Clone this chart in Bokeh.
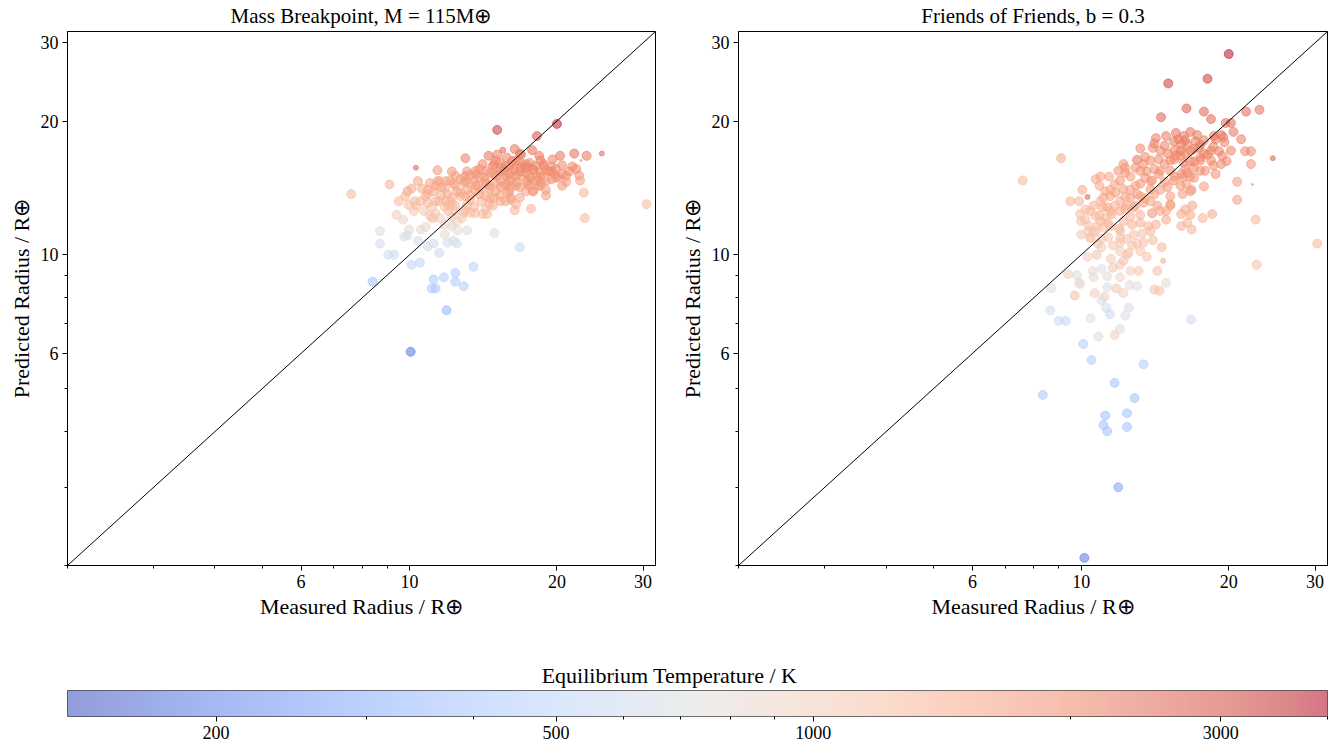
import numpy as np
from bokeh.plotting import figure
from bokeh.layouts import column, row
from bokeh.models import (ColumnDataSource, LogColorMapper, ColorBar, FixedTicker, Label,
                          PrintfTickFormatter, Range1d, Slope)
from bokeh.transform import transform
from bokeh.embed import file_html
from bokeh.resources import INLINE

# ---------------- data ----------------
# Left panel: Mass Breakpoint
left_measured = [15.1, 20.0, 18.2, 10.3, 7.6, 9.1, 13.0, 14.5, 15.5, 16.4, 16.8, 17.8, 18.4, 20.3, 21.7, 23.0, 24.7, 22.4,
                 30.5, 22.7, 22.8, 17.7, 16.4, 16.8, 14.9, 8.7, 8.7, 9.05, 9.3, 8.4, 10.1, 10.5, 11.5, 11.2, 11.75, 12.4,
                 13.5, 11.1, 11.3, 12.4, 12.9, 11.9, 10.05,
                 9.4, 9.7, 9.97, 9.75, 9.9, 10.4, 10.9, 11.2, 11.95, 12.3, 12.5, 12.55, 13.1, 11.8, 10.55, 10.8, 11.2,
                 11.8, 12.2, 12.5,
                 9.5, 9.95, 9.9, 10.1, 10.25, 10.6, 11.0, 11.4, 12.2, 13.1, 13.65, 14.1, 14.8, 15.35, 15.95, 16.9, 17.4,
                 17.9, 18.8, 19.3, 19.9, 20.9, 21.2, 22.2, 22.3, 19.0, 18.3, 16.8, 16.1, 15.35, 14.55, 14.1, 14.4, 13.55,
                 12.9, 12.4, 11.8, 11.1, 10.7, 11.5, 12.2, 12.7, 13.3, 14.0, 14.6, 15.35, 16.1, 16.9, 17.7, 18.55, 19.75,
                 11.8, 12.3, 12.9, 13.55, 14.2, 14.85, 15.6, 16.35, 11.2, 10.9, 11.95, 12.5, 13.1, 13.8, 14.4, 15.1, 15.8,
                 16.6, 17.4, 11.55, 12.2, 12.8, 13.3, 11.1, 12.2, 13.1, 14.0, 14.9, 15.8, 17.9, 18.55, 16.9, 19.6, 20.5,
                 17.2, 17.9, 18.8, 19.45, 20.1, 18.25, 17.4, 16.1, 15.35, 15.6, 16.35, 14.85, 15.8, 16.2, 15.1, 17.85,
                 16.1, 11.5, 11.4,
                 10.78, 11.3, 11.3, 11.85, 11.85, 12.4, 12.4, 12.4, 13.0, 13.0, 13.0, 13.65, 13.65, 13.65, 14.3, 14.3,
                 14.3, 15.0, 15.0, 15.0, 15.7, 15.7, 15.7, 16.5, 16.5, 16.5, 17.3, 17.3, 17.3, 18.1, 18.1, 19.0, 19.0,
                 19.9, 20.9, 21.9, 12.0, 13.0, 14.8, 15.7, 10.53, 11.0, 10.2, 9.8, 10.4,
                 10.9, 10.9, 11.6, 11.6, 12.1, 12.1, 12.7, 12.7, 13.3, 13.3, 13.3, 13.9, 13.9, 13.9, 14.6, 14.6, 14.6,
                 15.3, 15.3, 15.3, 16.0, 16.0, 16.0, 16.8, 16.8, 16.8, 17.6, 17.6, 17.6, 18.5, 18.5, 18.5, 19.5, 19.5,
                 20.5, 20.5, 21.5, 12.0, 14.3, 16.5, 19.0, 10.3, 11.3, 13.6]
left_predicted = [19.1, 19.7, 18.5, 15.7, 13.7, 14.4, 16.5, 16.7, 17.2, 17.3, 16.9, 17.2, 16.7, 16.7, 16.9, 16.7, 16.9, 16.3,
                  13.0, 13.8, 12.1, 12.7, 12.6, 10.4, 11.2, 11.3, 10.6, 10.0, 10.0, 8.7, 9.5, 9.6, 10.1, 8.8, 8.9, 9.1,
                  9.4, 8.4, 8.4, 8.7, 8.5, 7.5, 6.05,
                  12.3, 12.0, 11.4, 11.0, 11.05, 10.75, 10.45, 10.6, 10.65, 10.75, 10.6, 11.35, 11.35, 11.1, 11.4, 11.55,
                  12.1, 11.7, 11.6, 11.9,
                  13.2, 12.95, 13.9, 14.1, 13.2, 14.1, 14.5, 14.65, 15.4, 15.4, 15.2, 16.0, 15.85, 15.7, 15.85, 15.7, 15.7,
                  15.5, 16.0, 15.4, 14.9, 14.6, 15.4, 15.1, 14.7, 14.0, 14.3, 13.45, 13.45, 13.2, 13.0, 12.35, 12.35, 12.8,
                  12.45, 12.55, 12.8, 12.8, 12.55, 13.2, 13.45, 13.55, 13.65, 14.05, 14.3, 14.65, 14.9, 15.05, 14.9, 15.05,
                  15.2, 14.15, 14.45, 14.55, 14.65, 14.95, 15.2, 15.35, 15.5, 13.9, 13.7, 13.7, 13.9, 14.05, 14.3, 14.45,
                  14.55, 14.45, 14.55, 14.45, 12.1, 12.2, 12.1, 12.45, 12.1, 13.0, 13.0, 13.2, 13.45, 13.8, 13.9, 14.55,
                  16.8, 16.4, 15.9, 15.7, 15.6, 15.85, 15.4, 14.95, 14.95, 14.65, 14.2, 14.2, 15.5, 15.6, 16.0, 16.55,
                  16.25, 16.8, 13.9, 13.3, 14.65, 15.5,
                  13.55, 13.2, 14.3, 13.2, 14.65, 12.9, 14.3, 15.05, 13.55, 14.65, 15.05, 13.9, 14.3, 15.45, 13.55, 14.65,
                  15.45, 13.9, 15.05, 16.3, 14.3, 15.05, 15.85, 14.3, 15.05, 16.3, 13.9, 15.3, 16.0, 14.65, 15.85, 14.65,
                  15.45, 15.6, 15.05, 15.6, 12.55, 12.6, 12.9, 13.2, 13.2, 12.25, 12.55, 13.55, 14.65,
                  13.1, 14.0, 13.6, 14.2, 13.2, 14.7, 13.8, 14.8, 13.3, 14.4, 15.1, 13.7, 14.9, 15.6, 13.4, 14.1, 15.3,
                  13.6, 15.4, 16.1, 13.9, 14.7, 15.2, 14.2, 15.4, 16.2, 14.3, 15.0, 16.1, 14.3, 15.3, 16.3, 14.8, 15.8,
                  15.2, 14.3, 15.8, 12.9, 12.7, 13.0, 13.6, 12.9, 12.4, 12.4]
left_temp = [3300, 3700, 2900, 2600, 1300, 1400, 2200, 2300, 2500, 2300, 2200, 2400, 2300, 2300, 2400, 2300, 2500, 2000,
             1300, 1400, 1300, 1400, 1400, 560, 720, 760, 620, 600, 600, 380, 520, 520, 560, 420, 440, 430,
             480, 420, 420, 420, 450, 330, 185,
             1000, 900, 800, 720, 700, 650, 620, 650, 650, 660, 650, 760, 800, 750, 850, 850, 950, 900, 850, 950,
             1300, 1250, 1500, 1500, 1300, 1500, 1600, 1600, 1800, 1800, 1900, 2000, 2000, 2000, 2000, 2000, 2000,
             1900, 2000, 1900, 1800, 1700, 1900, 1800, 1700, 1700, 1700, 1600, 1600, 1500, 1400, 1300, 1300, 1300,
             1200, 1200, 1200, 1150, 1100, 1300, 1400, 1400, 1500, 1500, 1600, 1700, 1700, 1800, 1800, 1800, 1900,
             1500, 1600, 1600, 1700, 1700, 1800, 1800, 1900, 1500, 1400, 1500, 1600, 1600, 1600, 1700, 1700, 1700,
             1700, 1700, 1000, 1050, 1100, 1200, 1000, 1250, 1300, 1400, 1500, 1600, 1700, 1800, 2200, 2100, 2000,
             2000, 2000, 2000, 1900, 1800, 1800, 1800, 1700, 1700, 1900, 1900, 2000, 2100, 2100, 2200, 1700,
             1600, 1600, 1800,
             1400, 1350, 1550, 1350, 1600, 1250, 1550, 1700, 1450, 1650, 1750, 1550, 1650, 1850, 1500, 1700,
             1850, 1600, 1800, 2000, 1700, 1800, 1950, 1700, 1850, 2050, 1650, 1900, 2000, 1800, 2000, 1800,
             1900, 1950, 1850, 1950, 1200, 1250, 1400, 1500, 1300, 1100, 1150, 1400, 1600,
             1300, 1500, 1450, 1550, 1350, 1650, 1500, 1650, 1450, 1600, 1750, 1550, 1750, 1850, 1500, 1650, 1850,
             1550, 1850, 2000, 1650, 1750, 1850, 1700, 1900, 2050, 1750, 1850, 2000, 1750, 1900, 2050, 1800, 1950,
             1900, 1750, 1950, 1250, 1300, 1450, 1650, 1200, 1100, 1250]
left_size = [9, 9, 9, 5, 9, 9, 9, 9, 6, 9, 9, 9, 9, 9, 9, 9, 5, 2] + [9] * (len(left_measured) - 18)

# Right panel: Friends of Friends
right_measured = [20.0, 18.1, 15.05, 16.4, 17.8, 18.4, 14.55, 21.7, 23.1, 19.7, 20.2, 20.45, 21.2, 21.6, 22.2, 22.2, 24.6,
                  20.8, 20.8, 22.35, 22.7, 30.3, 22.8, 9.1, 7.6, 10.3, 14.7,
                  9.5, 9.9, 10.05, 10.7, 10.95, 11.4, 11.9, 12.2, 12.3, 13.0, 13.2, 14.0, 14.2, 14.9, 15.6, 13.4, 13.6,
                  14.4, 15.0, 15.6, 16.0, 15.45, 15.8, 16.2, 16.0, 15.45, 15.0, 14.4, 13.95, 13.85, 13.2, 13.0, 12.6,
                  12.2, 12.0, 11.75, 11.45, 11.1, 11.3, 11.05, 11.55, 12.0, 12.4, 12.8, 13.4, 13.95, 14.3, 14.9, 15.2,
                  14.9, 16.0, 16.0, 14.2, 13.7, 13.2, 12.7, 12.2, 11.95, 11.35, 11.1, 10.75, 10.6, 10.35, 10.45, 10.9,
                  10.7, 10.2, 10.0, 11.0, 11.35, 12.0, 12.4, 12.8, 13.3, 13.4, 12.0, 12.5, 10.75,
                  18.5, 17.7, 16.8, 16.45, 16.3, 16.7, 17.8, 16.8, 16.4, 18.8, 17.9, 19.8, 19.4, 19.1, 19.6, 18.8, 18.65,
                  17.1, 17.25, 16.7, 16.2, 16.45, 17.4, 18.1, 17.5, 16.7, 16.95, 16.45, 16.1, 16.1, 16.85,
                  9.95, 10.35, 10.7, 9.4, 9.8, 9.9, 10.55, 10.6, 11.0, 11.3, 12.0, 11.6, 12.0, 12.2, 12.4, 12.6, 13.1,
                  13.0, 14.3, 14.9,
                  8.7, 8.65, 9.0, 9.3, 9.7, 9.95, 10.65, 11.15, 11.3, 11.0, 11.25, 11.45, 10.45, 10.85, 11.7, 12.0, 12.3,
                  12.5, 11.8, 12.2, 12.55, 13.0, 14.1, 14.45, 16.75, 10.1, 10.5, 13.4, 11.7, 8.35, 12.85, 11.2, 12.4,
                  11.1, 11.3, 12.4, 11.9, 10.15,
                  10.43, 10.94, 10.94, 11.47, 11.47, 12.02, 12.02, 12.6, 12.6, 12.6, 13.2, 13.2, 13.2, 13.85, 13.85,
                  13.85, 14.5, 14.5, 14.5, 15.2, 15.2, 15.2, 15.95, 15.95, 15.95, 16.7, 16.7, 17.5, 17.5, 17.5, 18.4,
                  18.4, 19.3, 19.3, 20.2, 11.47, 12.02, 13.85, 14.5, 15.2, 16.7, 10.43, 11.0, 13.2, 14.0,
                  10.2, 10.6, 10.9, 11.2, 11.2, 11.7, 11.7, 12.3, 12.3, 12.3, 12.9, 12.9, 12.9, 13.5, 13.5, 13.5, 14.1,
                  14.1, 14.1, 14.8, 14.8, 14.8, 15.5, 15.5, 15.5, 16.3, 16.3, 16.3, 17.0, 17.0, 17.0, 17.8, 17.8, 18.6,
                  18.6, 19.5, 10.0, 10.8, 11.6, 12.7, 10.3, 11.5, 13.6, 14.6]
right_predicted = [28.3, 24.9, 24.3, 21.35, 21.0, 20.2, 20.4, 21.0, 21.2, 19.8, 19.8, 18.9, 18.2, 17.1, 17.1, 16.0, 16.5,
                   14.6, 13.3, 14.4, 12.0, 10.6, 9.5, 16.5, 14.7, 13.5, 9.7,
                   13.2, 13.2, 14.0, 14.8, 15.0, 15.0, 15.45, 16.0, 15.7, 16.35, 17.35, 17.4, 18.3, 18.5, 18.8, 16.0, 15.4,
                   16.4, 16.9, 16.7, 17.7, 18.0, 18.2, 16.1, 15.2, 14.7, 14.2, 15.2, 14.7, 14.05, 14.45, 13.7, 13.45,
                   14.05, 14.7, 13.8, 13.55, 13.45, 12.8, 12.8, 12.35, 12.55, 12.9, 12.8, 13.1, 12.4, 12.9, 12.55, 13.0,
                   12.0, 12.35, 11.6, 11.7, 11.6, 11.8, 11.7, 11.9, 11.45, 11.8, 11.5, 11.6, 11.2, 11.3, 10.95, 12.25,
                   12.25, 12.65, 11.9, 10.85, 10.95, 10.65, 10.85, 11.1, 11.15, 10.65, 10.2, 10.1, 10.0,
                   12.35, 12.1, 11.4, 11.8, 12.65, 12.3, 14.25, 14.0, 14.4, 15.2, 15.45, 16.25, 16.7, 17.1, 17.9, 18.2, 18.5,
                   18.0, 18.6, 18.9, 18.5, 17.7, 17.4, 16.8, 16.55, 16.25, 15.7, 15.3, 14.95, 13.7, 12.9,
                   12.35, 11.6, 11.3, 9.05, 9.0, 8.65, 9.2, 8.9, 9.3, 8.95, 8.9, 9.35, 9.5, 9.7, 10.0, 9.2, 9.2,
                   10.6, 9.2, 8.65,
                   8.4, 7.5, 7.1, 7.1, 8.1, 8.6, 8.2, 8.05, 8.45, 7.9, 7.6, 7.35, 7.2, 6.55, 6.6, 6.8, 7.3,
                   7.6, 8.4, 8.2, 8.55, 8.5, 8.35, 8.3, 7.15, 6.3, 5.8, 5.67, 5.15, 4.84, 4.76, 4.35, 4.4,
                   4.14, 4.01, 4.1, 3.0, 2.08,
                   12.55, 11.9, 13.2, 12.55, 14.0, 13.2, 11.3, 14.0, 12.2, 15.0, 13.55, 15.45, 12.3, 14.65, 16.3,
                   13.2, 14.0, 15.45, 17.15, 15.45, 16.3, 13.55, 16.7, 14.3, 17.15, 17.15, 15.0, 15.45, 16.3, 17.7, 16.3,
                   17.15, 16.0, 18.6, 17.15, 11.6, 10.9, 11.3, 12.55, 12.9, 13.9, 10.9, 10.4, 10.2, 10.8,
                   12.0, 12.9, 14.3, 12.1, 13.9, 12.9, 14.4, 12.7, 13.5, 15.3, 12.9, 14.3, 15.7, 13.4, 14.9, 16.6, 13.7,
                   15.6, 17.8, 14.6, 16.0, 17.6, 15.0, 16.4, 17.2, 15.6, 16.9, 18.1, 16.2, 17.3, 14.9, 16.9, 18.1, 17.5,
                   15.9, 18.4, 11.1, 10.6, 10.5, 10.5, 9.9, 9.8, 9.9, 10.4]
right_temp = [3800, 3300, 3300, 2700, 2600, 2500, 2600, 2500, 2400, 2400, 2400, 2300, 2200, 2000, 2000, 1900, 2600,
              1700, 1700, 2000, 1400, 1300, 1200, 1500, 1300, 2600, 1500,
              1400, 1400, 1500, 1600, 1600, 1600, 1800, 1800, 1800, 2300, 2000, 2000, 2200, 2200, 2300, 1900, 1900,
              2000, 2100, 2100, 2200, 2200, 2200, 2000, 1900, 1900, 1800, 1900, 1800, 1800, 1800, 1700, 1700,
              1700, 1800, 1700, 1600, 1600, 1500, 1500, 1500, 1500, 1600, 1600, 1700, 1900, 1700, 1600, 1700,
              1500, 1500, 1400, 1400, 1400, 1400, 1400, 1300, 1300, 1300, 1250, 1200, 1100, 1100, 1100, 1300,
              1300, 1300, 1200, 1100, 1100, 1100, 1150, 1200, 1200, 1200, 1050, 1100, 1100,
              1500, 1400, 1400, 1400, 1500, 1500, 1700, 1700, 1700, 1900, 1900, 2000, 2000, 2100, 2100, 2200, 2300,
              2200, 2200, 2300, 2200, 2100, 2100, 2100, 2000, 2000, 2000, 1900, 1900, 1700, 1600,
              1200, 1200, 1100, 1000, 760, 700, 800, 800, 720, 750, 900, 1100, 1100, 1100, 1100, 1000, 1100,
              1150, 1200, 800,
              700, 620, 560, 560, 1200, 900, 1000, 1000, 700, 700, 650, 600, 700, 650, 1000, 700, 700,
              700, 1100, 1000, 750, 750, 1200, 1200, 600, 450, 450, 450, 380, 400, 380, 380, 380,
              380, 380, 380, 270, 185,
              1300, 1250, 1400, 1400, 1550, 1500, 1200, 1600, 1400, 1700, 1600, 1800, 1400, 1700, 1900,
              1600, 1700, 1800, 2000, 1900, 2000, 1700, 2000, 1800, 2100, 2100, 1900, 1900, 2000, 2200, 2000,
              2100, 2000, 2300, 2100, 1250, 1150, 1300, 1500, 1600, 1700, 1100, 1050, 1150, 1250,
              1200, 1350, 1550, 1300, 1500, 1400, 1600, 1450, 1550, 1750, 1500, 1650, 1850, 1600, 1750, 1950, 1650,
              1850, 2100, 1750, 1950, 2100, 1850, 2000, 2100, 1900, 2050, 2200, 2000, 2100, 1800, 2050, 2200, 2100,
              1950, 2200, 1100, 1100, 1100, 1150, 1000, 1050, 1150, 1300]
right_size = [9] * 16 + [5, 9, 9, 2, 9, 9, 9, 9, 9, 5, 5] + [9] * (len(right_measured) - 27)

# colour scale and axis ticks
temp_low, temp_high = 134, 4000
radius_low, radius_high = 2.0, 31.8
radius_ticks = [6, 10, 20, 30]
radius_minor = [2, 3, 4, 5, 7, 8, 9]
temp_ticks = [200, 500, 1000, 3000]
temp_minor = [300, 400, 600, 700, 800, 900, 2000, 4000]

# matplotlib "coolwarm" anchor colours (Moreland diverging map)
cw = [(59, 76, 192), (68, 90, 204), (77, 104, 215), (87, 117, 225), (98, 130, 234), (108, 142, 241),
      (119, 154, 247), (130, 165, 251), (141, 176, 254), (152, 185, 255), (163, 194, 255), (174, 201, 253),
      (184, 208, 249), (194, 213, 244), (204, 217, 238), (213, 219, 230), (221, 221, 221), (229, 216, 209),
      (236, 211, 197), (241, 204, 185), (245, 196, 173), (247, 187, 160), (247, 177, 148), (247, 166, 135),
      (244, 154, 123), (241, 141, 111), (236, 127, 99), (229, 112, 88), (222, 96, 77), (213, 80, 66),
      (203, 62, 56), (192, 40, 47), (180, 4, 38)]
cw = np.array(cw, dtype=float)
pos = np.linspace(0, 1, len(cw))
t = np.linspace(0, 1, 256)
palette = ["#%02x%02x%02x" % tuple(int(round(np.interp(v, pos, cw[:, k]))) for k in range(3)) for v in t]

mapper = LogColorMapper(palette=palette, low=temp_low, high=temp_high)

SERIF = "Liberation Serif"
ALPHA = 0.55


def make_panel(title, xs, ys, temps, sizes, width, height, bl, br):
    p = figure(width=width, height=height, x_axis_type="log", y_axis_type="log",
               x_range=Range1d(radius_low, radius_high), y_range=Range1d(radius_low, radius_high),
               toolbar_location=None, output_backend="svg", title=title,
               min_border_left=bl, min_border_right=br, min_border_top=31, min_border_bottom=65)
    p.grid.visible = False
    p.outline_line_color = "black"
    p.outline_line_width = 1
    p.outline_line_alpha = 1
    p.title.text_font = SERIF
    p.title.text_font_size = "21px"
    p.title.text_font_style = "normal"
    p.title.align = "center"
    p.title.vertical_align = "top"
    p.title.text_color = "black"
    p.title.standoff = 3
    for ax in (p.xaxis[0], p.yaxis[0]):
        ax.ticker = FixedTicker(ticks=radius_ticks, minor_ticks=radius_minor)
        ax.formatter = PrintfTickFormatter(format="%d")
        ax.major_tick_in = 0
        ax.major_tick_out = 5
        ax.minor_tick_in = 0
        ax.minor_tick_out = 3
        ax.axis_line_color = "black"
        ax.major_tick_line_color = "black"
        ax.minor_tick_line_color = "black"
        ax.major_label_text_font = SERIF
        ax.major_label_text_font_size = "18px"
        ax.major_label_text_color = "black"
        ax.axis_label_text_font = SERIF
        ax.axis_label_text_font_size = "22px"
        ax.axis_label_text_font_style = "normal"
        ax.axis_label_text_color = "black"
        ax.major_label_standoff = 4
    p.xaxis.axis_label = "Measured Radius / R⊕"
    p.yaxis.axis_label = "Predicted Radius / R⊕"
    p.xaxis.axis_label_standoff = 3
    p.yaxis.axis_label_standoff = 4

    src = ColumnDataSource(dict(x=xs, y=ys, T=temps, s=sizes))
    p.scatter("x", "y", source=src, size="s",
              fill_color=transform("T", mapper), line_color=transform("T", mapper),
              fill_alpha=ALPHA, line_alpha=ALPHA, line_width=1)
    p.add_layout(Slope(gradient=1, y_intercept=0, line_color="black", line_width=1))
    return p


p1 = make_panel("Mass Breakpoint, M = 115M⊕", left_measured, left_predicted, left_temp, left_size,
                675, 630, 67, 20)
p2 = make_panel("Friends of Friends, b = 0.3", right_measured, right_predicted, right_temp, right_size,
                663, 630, 63, 11)

cb_fig = figure(width=1338, height=115, x_range=Range1d(0, 1), y_range=Range1d(0, 1),
                x_axis_location=None, y_axis_location=None, toolbar_location=None,
                output_backend="svg", min_border=0, outline_line_color=None)
cb_fig.grid.visible = False

color_bar = ColorBar(color_mapper=mapper, orientation="horizontal", location=(67, 4),
                     width=1260, height=26, padding=0,
                     ticker=FixedTicker(ticks=temp_ticks, minor_ticks=temp_minor),
                     formatter=PrintfTickFormatter(format="%d"),
                     major_label_text_font=SERIF, major_label_text_font_size="18px",
                     major_label_text_color="black", label_standoff=4,
                     major_tick_in=0, major_tick_out=5, minor_tick_in=0, minor_tick_out=3,
                     major_tick_line_color="black", minor_tick_line_color="black",
                     bar_line_color="black", bar_line_width=1, scale_alpha=ALPHA,
                     background_fill_alpha=0, border_line_color=None)
cb_fig.add_layout(color_bar, "center")
cb_fig.add_layout(Label(x=669, y=70, x_units="screen", y_units="screen", text="Equilibrium Temperature / K",
                        text_font=SERIF, text_font_size="22px", text_color="black",
                        text_align="center", text_baseline="middle"))

layout = column(row(p1, p2), cb_fig)
open("out.html", "w").write(file_html(layout, INLINE))
